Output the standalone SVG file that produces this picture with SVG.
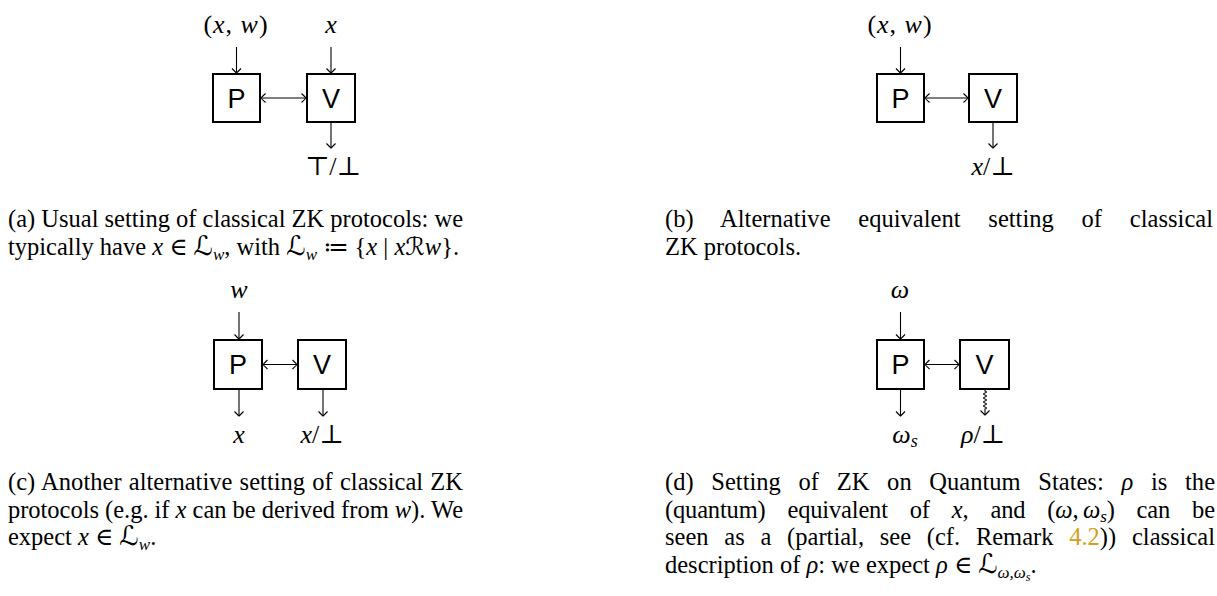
<svg xmlns="http://www.w3.org/2000/svg" width="1217" height="596" viewBox="0 0 1217 596">
<style>
.box{fill:#fff;stroke:#000;stroke-width:2}
.lbl{font-family:"Liberation Sans",Arial,sans-serif;font-size:27px;text-anchor:middle;fill:#000}
.m{font-family:"Liberation Serif","DejaVu Serif","DejaVu Sans",serif;font-size:26px;text-anchor:middle;fill:#000}
.cap{font-family:"Liberation Serif","DejaVu Serif","DejaVu Sans",serif;font-size:24.5px;fill:#000}
.i{font-style:italic}
.e{fill:none;stroke:#000;stroke-width:1.1}
.ref{fill:#d4a017}
.L{font-size:27px}
</style>
<defs>
<marker id="ah" viewBox="-6 -6 12 12" markerWidth="12" markerHeight="12" refX="0" refY="0" orient="auto-start-reverse" markerUnits="userSpaceOnUse">
<path d="M-4.5,-4.5 Q-1,-1.2 0,0 Q-1,1.2 -4.5,4.5" fill="none" stroke="#000" stroke-width="1.1"/>
</marker>
</defs>

<!-- (a) -->
<g id="a-P"><rect class="box" x="213" y="74" width="47" height="48"/><text class="lbl" x="236.5" y="108">P</text></g>
<g id="a-V"><rect class="box" x="307" y="74" width="48" height="48"/><text class="lbl" x="331" y="108">V</text></g>
<g id="a-labels">
<text class="m" x="236" y="33" letter-spacing="1">(<tspan class="i">x</tspan>, <tspan class="i">w</tspan>)</text>
<text class="m" x="331" y="33"><tspan class="i">x</tspan></text>
<text class="m" x="333" y="175" font-size="24">⊤/⊥</text>
</g>
<g id="a-edges">
<line class="e" x1="236.5" y1="47" x2="236.5" y2="73" marker-end="url(#ah)"/>
<line class="e" x1="331" y1="47" x2="331" y2="73" marker-end="url(#ah)"/>
<line class="e" x1="261" y1="98" x2="306" y2="98" marker-start="url(#ah)" marker-end="url(#ah)"/>
<line class="e" x1="331" y1="123" x2="331" y2="148" marker-end="url(#ah)"/>
</g>

<!-- (b) -->
<g id="b-P"><rect class="box" x="877" y="74" width="47" height="48"/><text class="lbl" x="900.5" y="108">P</text></g>
<g id="b-V"><rect class="box" x="969" y="74" width="48" height="48"/><text class="lbl" x="993" y="108">V</text></g>
<g id="b-labels">
<text class="m" x="900" y="33" letter-spacing="1">(<tspan class="i">x</tspan>, <tspan class="i">w</tspan>)</text>
<text class="m" x="993" y="175" font-size="25"><tspan class="i">x</tspan>/⊥</text>
</g>
<g id="b-edges">
<line class="e" x1="900.5" y1="47" x2="900.5" y2="73" marker-end="url(#ah)"/>
<line class="e" x1="925" y1="98" x2="968" y2="98" marker-start="url(#ah)" marker-end="url(#ah)"/>
<line class="e" x1="993" y1="123" x2="993" y2="148" marker-end="url(#ah)"/>
</g>

<!-- (c) -->
<g id="c-P"><rect class="box" x="214" y="340" width="48" height="49"/><text class="lbl" x="238" y="374">P</text></g>
<g id="c-V"><rect class="box" x="298" y="340" width="48" height="49"/><text class="lbl" x="322" y="374">V</text></g>
<g id="c-labels">
<text class="m" x="239" y="298"><tspan class="i">w</tspan></text>
<text class="m" x="239" y="443"><tspan class="i">x</tspan></text>
<text class="m" x="322" y="443" font-size="25"><tspan class="i">x</tspan>/⊥</text>
</g>
<g id="c-edges">
<line class="e" x1="239" y1="312" x2="239" y2="339" marker-end="url(#ah)"/>
<line class="e" x1="263" y1="364.5" x2="297" y2="364.5" marker-start="url(#ah)" marker-end="url(#ah)"/>
<line class="e" x1="239" y1="390" x2="239" y2="416" marker-end="url(#ah)"/>
<line class="e" x1="323" y1="390" x2="323" y2="416" marker-end="url(#ah)"/>
</g>

<!-- (d) -->
<g id="d-P"><rect class="box" x="877" y="340" width="47" height="49"/><text class="lbl" x="900.5" y="374">P</text></g>
<g id="d-V"><rect class="box" x="960" y="340" width="49" height="49"/><text class="lbl" x="984.5" y="374">V</text></g>
<g id="d-labels">
<text class="m" x="900" y="298"><tspan class="i">ω</tspan></text>
<text class="m" x="905" y="443"><tspan class="i">ω</tspan><tspan class="i" font-size="18" dy="4">s</tspan></text>
<text class="m" x="983" y="443" font-size="25"><tspan class="i">ρ</tspan>/⊥</text>
</g>
<g id="d-edges">
<line class="e" x1="900.5" y1="312" x2="900.5" y2="339" marker-end="url(#ah)"/>
<line class="e" x1="925" y1="364.5" x2="959" y2="364.5" marker-start="url(#ah)" marker-end="url(#ah)"/>
<line class="e" x1="900.5" y1="390" x2="900.5" y2="416" marker-end="url(#ah)"/>
<path class="e" d="M985,390 L985,391 q3,1 0,2 q-3,1 0,2 q3,1 0,2 q-3,1 0,2 q3,1 0,2 q-3,1 0,2 q3,1 0,2 q-3,1 0,2 q3,1 0,2 L985,415" marker-end="url(#ah)"/>
</g>

<!-- captions -->
<g id="captions">
<text class="cap" x="8" y="227" textLength="455" lengthAdjust="spacing">(a) Usual setting of classical ZK protocols: we</text>
<text class="cap" x="8" y="255">typically have <tspan class="i">x</tspan> ∈ <tspan class="L">ℒ</tspan><tspan class="i" font-size="17" dy="5">w</tspan><tspan dy="-5">, with </tspan><tspan class="L">ℒ</tspan><tspan class="i" font-size="17" dy="5">w</tspan><tspan dy="-5"> ≔ {</tspan><tspan class="i">x</tspan> | <tspan class="i">x</tspan>ℛ<tspan class="i">w</tspan>}.</text>

<text class="cap" x="665" y="227" textLength="548" lengthAdjust="spacing" word-spacing="21.6">(b) Alternative equivalent setting of classical</text>
<text class="cap" x="665" y="255">ZK protocols.</text>

<text class="cap" x="8" y="490" textLength="455" lengthAdjust="spacing" word-spacing="1">(c) Another alternative setting of classical ZK</text>
<text class="cap" x="8" y="517.5" textLength="455" lengthAdjust="spacing">protocols (e.g. if <tspan class="i">x</tspan> can be derived from <tspan class="i">w</tspan>). We</text>
<text class="cap" x="8" y="545">expect <tspan class="i">x</tspan> ∈ <tspan class="L">ℒ</tspan><tspan class="i" font-size="17" dy="5">w</tspan><tspan dy="-5">.</tspan></text>

<text class="cap" x="665" y="490" textLength="550" lengthAdjust="spacing" word-spacing="11.6">(d) Setting of ZK on Quantum States: <tspan class="i">ρ</tspan> is the</text>
<text class="cap" x="665" y="517.5" textLength="550" lengthAdjust="spacing" word-spacing="16">(quantum) equivalent of <tspan class="i">x</tspan>, and (<tspan class="i">ω</tspan>,&#8201;<tspan class="i">ω</tspan><tspan class="i" font-size="17" dy="4">s</tspan><tspan dy="-4">) can be</tspan></text>
<text class="cap" x="665" y="545" textLength="550" lengthAdjust="spacing" word-spacing="9.6">seen as a (partial, see (cf. Remark <tspan class="ref">4.2</tspan>)) classical</text>
<text class="cap" x="665" y="572.5">description of <tspan class="i">ρ</tspan>: we expect <tspan class="i">ρ</tspan> ∈ <tspan class="L">ℒ</tspan><tspan class="i" font-size="17" dy="5">ω,ω</tspan><tspan class="i" font-size="12" dy="3">s</tspan><tspan dy="-8">.</tspan></text>
</g>
</svg>
